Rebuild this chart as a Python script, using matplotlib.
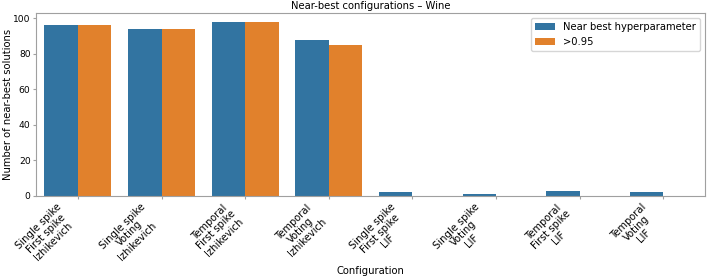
import matplotlib
matplotlib.use('Agg')
import matplotlib.pyplot as plt
import numpy as np

configs = [
    'Single spike\nFirst spike\nIzhikevich',
    'Single spike\nVoting\nIzhikevich',
    'Temporal\nFirst spike\nIzhikevich',
    'Temporal\nVoting\nIzhikevich',
    'Single spike\nFirst spike\nLIF',
    'Single spike\nVoting\nLIF',
    'Temporal\nFirst spike\nLIF',
    'Temporal\nVoting\nLIF',
]
near_best = [96, 94, 98, 88, 2, 1, 3, 2]
above_095 = [96, 94, 98, 85, 0, 0, 0, 0]

plt.rcParams['font.size'] = 7.2

fig = plt.figure(figsize=(7.08, 2.78), dpi=100)
ax = fig.add_axes([0.051, 0.295, 0.945, 0.658])

x = np.arange(len(configs))
w = 0.4
ax.bar(x - w / 2, near_best, w, color='#3274a1', label='Near best hyperparameter')
ax.bar(x + w / 2, above_095, w, color='#e1812c', label='>0.95')

ax.set_xlim(-0.5, len(configs) - 0.5)
ax.set_ylim(0, max(near_best) * 1.05)
ax.set_yticks([0, 20, 40, 60, 80, 100])
ax.set_xticks(x)
ax.set_xticklabels(configs, rotation=45, ha='right', multialignment='center',
                   fontsize=7.2, linespacing=1.05)

for s in ax.spines.values():
    s.set_color('#a0a0a0')
ax.tick_params(color='#a0a0a0', length=2.5, pad=1.5)
ax.tick_params(axis='y', labelsize=6.6)

ax.set_title('Near-best configurations – Wine', fontsize=7.2, pad=3)
ax.set_xlabel('Configuration')
ax.xaxis.set_label_coords(0.5, -0.38)
ax.set_ylabel('Number of near-best solutions', fontsize=7.2)
ax.yaxis.set_label_coords(-0.035, 0.5)
ax.legend(loc='upper right', fontsize=7.2)

fig.savefig('out.png')
